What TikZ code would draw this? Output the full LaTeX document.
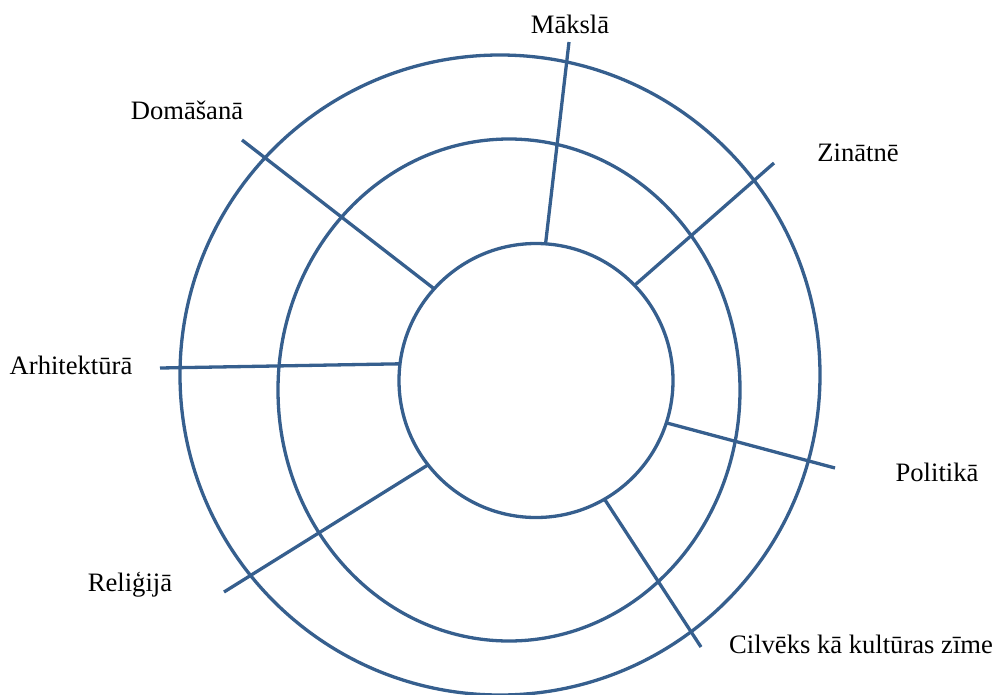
\documentclass[tikz,border=0pt]{standalone}
\usepackage{fontspec}
\setmainfont{Liberation Serif}
\definecolor{ringblue}{RGB}{54,95,142}
\begin{document}
\begin{tikzpicture}[x=1pt,y=-1pt,
  ring/.style={draw=ringblue,line width=3.3pt},
  spoke/.style={draw=ringblue,line width=3.3pt},
  lbl/.style={anchor=base,inner sep=0pt,font=\fontsize{26.6}{30}\selectfont}]
\useasboundingbox (0,0) rectangle (996,694);
% rings
\draw[ring] (500,375) circle [radius=320pt];
\draw[ring] (509,390) ellipse [x radius=231pt, y radius=251pt];
\node[ring,circle,minimum size=274pt,inner sep=0pt,outer sep=0pt] (inner) at (536,380.5) {};
% outer ends of spokes
\coordinate (eMa) at (569,42);
\coordinate (eZi) at (774,163);
\coordinate (eDo) at (242,140);
\coordinate (eAr) at (160,368);
\coordinate (ePo) at (835,468);
\coordinate (eRe) at (224,592);
\coordinate (eCi) at (701,647);
% spokes
\draw[spoke] (inner.86.2) -- (eMa);
\draw[spoke] (inner.44) -- (eZi);
\draw[spoke] (inner.138.6) -- (eDo);
\draw[spoke] (inner.173.2) -- (eAr);
\draw[spoke] (inner.-18.4) -- (ePo);
\draw[spoke] (inner.-142.5) -- (eRe);
\draw[spoke] (inner.-60.8) -- (eCi);
% labels
\node[lbl] (tMa) at (570,33) {Mākslā};
\node[lbl] (tDo) at (187,119.5) {Domāšanā};
\node[lbl] (tZi) at (858,161.5) {Zinātnē};
\node[lbl] (tAr) at (71,374) {Arhitektūrā};
\node[lbl] (tPo) at (937,481) {Politikā};
\node[lbl] (tRe) at (130,591) {Reliģijā};
\node[lbl] (tCi) at (861,653.5) {Cilvēks kā kultūras zīme};
\end{tikzpicture}
\end{document}
